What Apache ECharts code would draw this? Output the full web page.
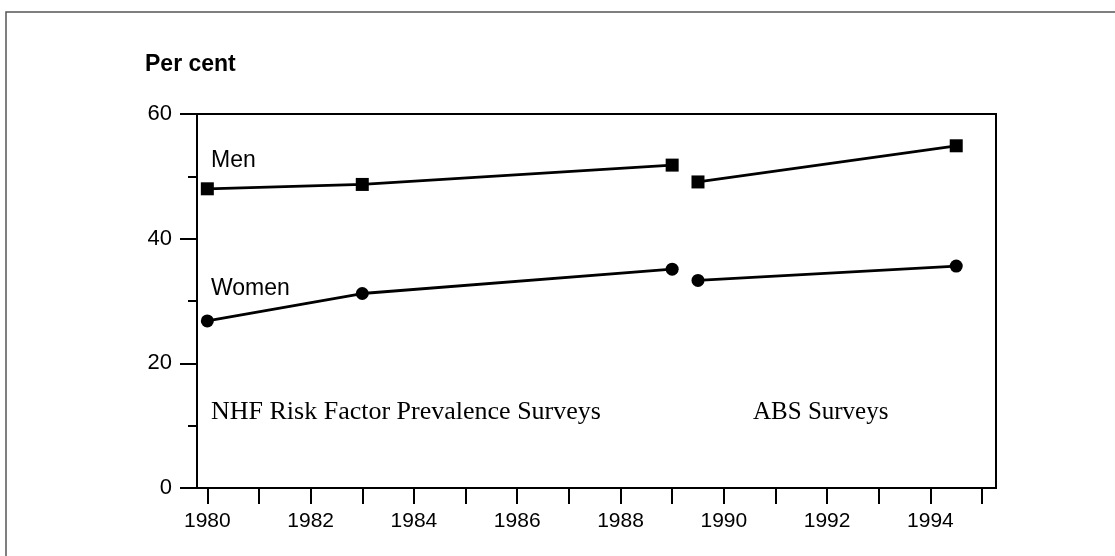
<!DOCTYPE html>
<html>
<head>
<meta charset="utf-8">
<script src="https://cdn.jsdelivr.net/npm/echarts@6/dist/echarts.min.js"></script>
<style>
  html, body { margin: 0; padding: 0; background: #fff; }
  #chart { width: 1115px; height: 556px; }
</style>
</head>
<body>
<div id="chart"></div>
<script>
// survey years (NHF surveys, then ABS surveys)
const nhfYears = [1980, 1983, 1989];
const absYears = [1989.5, 1994.5];

// per cent values
const menNhf = [48, 48.7, 51.8];
const womenNhf = [26.8, 31.2, 35.1];
const menAbs = [49.1, 54.9];
const womenAbs = [33.3, 35.6];

// axis ticks / labels
const xTicks = [1980, 1981, 1982, 1983, 1984, 1985, 1986, 1987, 1988, 1989, 1990, 1991, 1992, 1993, 1994, 1995];
const xLabels = [1980, 1982, 1984, 1986, 1988, 1990, 1992, 1994];

const SANS = "'Liberation Sans', Arial, sans-serif";
const SERIF = "'Liberation Serif', 'Times New Roman', serif";

const zip = (xs, ys) => xs.map((x, i) => [x, ys[i]]);

function lineSeries(name, xs, ys, symbol) {
  return {
    name: name,
    type: 'line',
    data: zip(xs, ys),
    symbol: symbol,
    symbolSize: 13,
    lineStyle: { color: '#000', width: 2.8 },
    itemStyle: { color: '#000' },
    z: 5
  };
}

const chart = echarts.init(document.getElementById('chart'));
chart.setOption({
  animation: false,
  backgroundColor: '#fff',
  grid: {
    left: 197, right: 119, top: 114, bottom: 68,
    show: true, borderColor: '#000', borderWidth: 2, backgroundColor: 'transparent'
  },
  xAxis: {
    type: 'value',
    min: 1979.8,
    max: 1995.27,
    axisLine: { lineStyle: { color: '#000', width: 2 } },
    axisTick: { customValues: xTicks, length: 16, lineStyle: { color: '#000', width: 2 } },
    axisLabel: {
      customValues: xLabels, margin: 23,
      color: '#000', fontFamily: SANS, fontSize: 21,
      formatter: v => String(v)
    },
    splitLine: { show: false }
  },
  yAxis: {
    type: 'value',
    min: 0,
    max: 60,
    interval: 20,
    axisLine: { show: true, lineStyle: { color: '#000', width: 2 } },
    axisTick: { show: true, length: 17, lineStyle: { color: '#000', width: 2 } },
    minorTick: { show: true, splitNumber: 2, length: 9, lineStyle: { color: '#000', width: 2 } },
    axisLabel: { margin: 25, color: '#000', fontFamily: SANS, fontSize: 22 },
    splitLine: { show: false }
  },
  series: [
    lineSeries('Men', nhfYears, menNhf, 'rect'),
    lineSeries('Women', nhfYears, womenNhf, 'circle'),
    lineSeries('Men ABS', absYears, menAbs, 'rect'),
    lineSeries('Women ABS', absYears, womenAbs, 'circle')
  ],
  graphic: [
    {
      type: 'rect', silent: true,
      shape: { x: 6, y: 12, width: 1300, height: 700 },
      style: { fill: 'none', stroke: '#555', lineWidth: 1.5 }
    },
    {
      type: 'text', left: 145, top: 53,
      style: { text: 'Per cent', font: 'bold 23px ' + SANS, fill: '#000' }
    },
    {
      type: 'text', left: 211, top: 149,
      style: { text: 'Men', font: '23px ' + SANS, fill: '#000' }
    },
    {
      type: 'text', left: 211, top: 277,
      style: { text: 'Women', font: '23px ' + SANS, fill: '#000' }
    },
    {
      type: 'text', left: 211, top: 399,
      style: { text: 'NHF Risk Factor Prevalence Surveys', font: '26px ' + SERIF, fill: '#000' }
    },
    {
      type: 'text', left: 753, top: 400,
      style: { text: 'ABS Surveys', font: '25px ' + SERIF, fill: '#000' }
    }
  ]
});
</script>
</body>
</html>
